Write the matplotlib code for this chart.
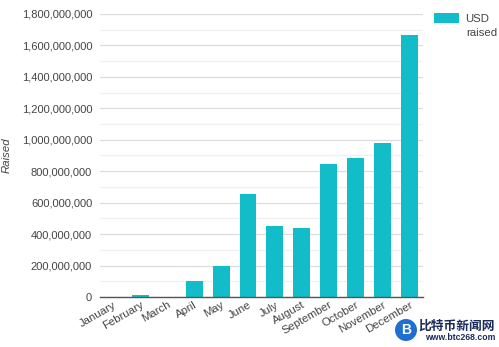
import matplotlib
matplotlib.use('Agg')
import matplotlib.pyplot as plt
from matplotlib.patches import Ellipse
import numpy as np
from matplotlib.ticker import FuncFormatter, MultipleLocator

months = ['January', 'February', 'March', 'April', 'May', 'June', 'July',
          'August', 'September', 'October', 'November', 'December']
usd_raised = [1e6, 12e6, 3e6, 100e6, 197e6, 656e6, 452e6,
              440e6, 847e6, 884e6, 982e6, 1663e6]

bar_color = '#12BDC9'
text_color = '#444444'

plt.rcParams['font.family'] = ['Liberation Sans', 'DejaVu Sans']

fig = plt.figure(figsize=(4.99, 3.47), dpi=100)
ax = fig.add_axes([0.2, 0.144, 0.648, 0.816])

x = np.arange(len(months))
ax.bar(x, usd_raised, width=0.63, color=bar_color, label='USD', zorder=3)

ax.set_xlim(-0.5, len(months) - 0.5)
ax.set_ylim(0, 1.8e9)
ax.yaxis.set_major_locator(MultipleLocator(2e8))
ax.yaxis.set_minor_locator(MultipleLocator(1e8))
ax.yaxis.set_major_formatter(FuncFormatter(lambda v, p: f'{int(v):,}'))
ax.grid(axis='y', which='major', color='#dcdcdc', linewidth=0.9, zorder=0)
ax.grid(axis='y', which='minor', color='#f0f0f0', linewidth=0.9, zorder=0)

for s in ['top', 'right', 'left']:
    ax.spines[s].set_visible(False)
ax.spines['bottom'].set_color('#555555')
ax.spines['bottom'].set_linewidth(1.0)
ax.spines['bottom'].set_zorder(4)

ax.tick_params(axis='y', which='both', length=0, pad=5.5, labelsize=8, labelcolor=text_color)
ax.tick_params(axis='x', length=0, pad=2, labelsize=8.2, labelcolor=text_color)
ax.set_xticks(x)
ax.set_xticklabels(months, rotation=30, ha='right', rotation_mode='anchor')

ax.set_ylabel('Raised', fontsize=8.2, style='italic', color=text_color)
ax.yaxis.set_label_coords(-0.272, 0.5)

ax.legend(loc='upper left', bbox_to_anchor=(1.02, 1.02), frameon=False,
          fontsize=8.2, labelcolor=text_color, handlelength=2.2, handleheight=1.0,
          handletextpad=0.5, borderaxespad=0)
ax.text(1.133, 0.933, 'raised', transform=ax.transAxes, fontsize=8.2,
        color=text_color, va='center', ha='left')

# watermark in the bottom right corner
fig.text(0.992, 1 - 326 / 347, '比特币新闻网', ha='right', va='center', fontsize=9.2,
         fontweight='bold', color='#1a2a5a', family=['Noto Sans CJK SC', 'DejaVu Sans'])
fig.text(0.992, 1 - 338 / 347, 'www.btc268.com', ha='right', va='center', fontsize=6.2,
         fontweight='bold', color='#1a2a5a')
fig.patches.append(Ellipse((406 / 499, 1 - 330 / 347), 22 / 499, 22 / 347,
                           transform=fig.transFigure, facecolor='#1e6fd0',
                           edgecolor='none', figure=fig))
fig.text(406 / 499, 1 - 330 / 347, 'B', ha='center', va='center', fontsize=10,
         fontweight='bold', color='white')

fig.savefig('out.png', dpi=100, facecolor='white')
